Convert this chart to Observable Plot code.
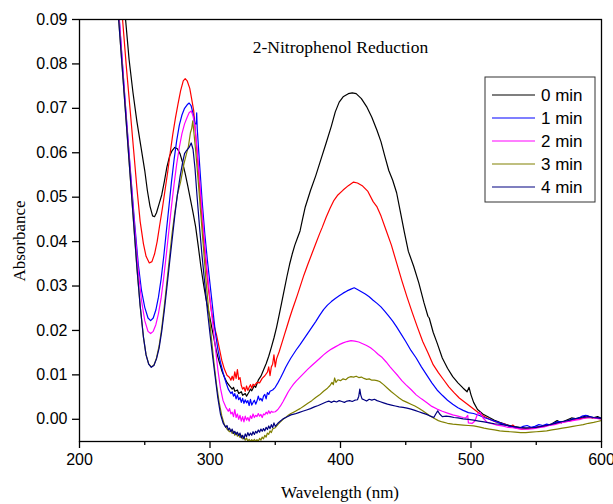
<!DOCTYPE html>
<html>
<head>
<meta charset="utf-8">
<script src="https://cdn.jsdelivr.net/npm/d3@7"></script>
<script src="https://cdn.jsdelivr.net/npm/@observablehq/plot@0.6"></script>
<style>
  html, body { margin: 0; padding: 0; background: #fff; }
  #chart svg { display: block; background: #fff; }
</style>
</head>
<body>
<div id="chart"></div>
<script>
// ---- data (wavelength nm, absorbance) ----
const titleText = "2-Nitrophenol Reduction";
const xLabel = "Wavelength (nm)";
const yLabel = "Absorbance";
const xTicksMajor = [200, 300, 400, 500, 600];
const xTicksMinor = [250, 350, 450, 550];
const yTicks = [0, 0.01, 0.02, 0.03, 0.04, 0.05, 0.06, 0.07, 0.08, 0.09];
const legendLabels = ["0 min", "1 min", "2 min", "3 min", "4 min"];
const legendColors = ["#000000", "#0000ff", "#ff00ff", "#808000", "#000080"];

const s0 = [[232,0.102],[235,0.091],[238,0.081],[241,0.0735],[244,0.067],[247,0.0615],[250,0.056],[252,0.0515],[254,0.048],[256,0.0458],[257.5,0.0456],[259,0.0465],[261,0.0485],[263,0.0505],[265,0.0535],[267,0.0568],[269,0.0592],[271,0.0605],[273,0.0612],[275,0.0609],[277,0.0598],[279,0.0578],[281,0.0553],[283,0.0525],[285,0.0495],[287,0.0465],[289,0.0433],[291,0.039],[293,0.0344],[295,0.0305],[297,0.027],[299,0.0242],[301,0.0212],[303,0.0182],[305,0.0152],[307,0.013],[309,0.011],[311,0.0095],[313,0.0083],[315,0.0075],[317,0.0068],[318,0.0072],[319,0.0063],[321,0.0066],[322,0.0058],[324,0.0062],[325,0.0054],[327,0.0058],[328,0.0052],[330,0.0062],[331,0.0068],[332,0.0064],[334,0.0076],[335,0.0072],[337,0.0088],[339,0.0097],[341,0.0111],[343,0.0125],[345,0.0142],[347,0.0162],[349,0.0183],[351,0.0207],[353,0.0235],[355,0.0264],[357,0.0293],[359,0.0322],[361,0.0349],[363,0.0372],[365,0.0392],[367,0.0408],[369,0.0424],[371,0.0452],[373,0.0478],[377,0.0515],[381,0.0548],[385,0.0585],[389,0.0622],[393,0.066],[396,0.0692],[399,0.0714],[402,0.0726],[406,0.0733],[409,0.0735],[412,0.0733],[416,0.0722],[420,0.0704],[424,0.068],[428,0.065],[431,0.0625],[434,0.0592],[437,0.056],[440,0.0538],[443,0.051],[446,0.0465],[449,0.042],[452,0.0378],[456,0.0345],[460,0.0307],[464,0.0262],[467,0.0232],[468,0.0228],[471,0.0196],[474,0.0172],[478,0.0138],[482,0.0115],[486,0.0096],[490,0.0082],[494,0.007],[497,0.0062],[498.5,0.0072],[500,0.0055],[502,0.0038],[505,0.0022],[509,0.0012],[514,0.0004],[518,-0.0002],[522,-0.0007],[527,-0.0012],[532,-0.0016],[537,-0.0018],[542,-0.002],[547,-0.0019],[552,-0.0017],[557,-0.0015],[562,-0.001],[566,-0.0003],[569,-0.0008],[573,-0.0002],[577,0.0003],[581,0.0001],[585,0.0005],[589,0.0008],[593,0.0003],[597,0.0006],[600,0.0002]];

const sRed = [[229,0.106],[233,0.09],[236,0.079],[239,0.069],[241.5,0.0605],[244,0.052],[246.5,0.0445],[249,0.0395],[251,0.0367],[253.5,0.0352],[255.5,0.0355],[257.5,0.0372],[259.5,0.04],[261.5,0.0438],[263.5,0.0475],[265.5,0.0515],[267.5,0.0555],[269.5,0.06],[271.5,0.0642],[273.5,0.0678],[275.5,0.071],[277.5,0.074],[279.5,0.0762],[281,0.0767],[282.5,0.0762],[284.5,0.0745],[286,0.072],[287.5,0.0695],[289,0.064],[291,0.0565],[293,0.0485],[295,0.041],[297,0.0345],[299,0.0288],[301,0.0245],[303,0.0212],[305,0.019],[307,0.0162],[309,0.0133],[311,0.0113],[313,0.0099],[315,0.0094],[316,0.0088],[317,0.0097],[318,0.0088],[319,0.0107],[320,0.0092],[321,0.0112],[322,0.009],[323,0.0094],[324,0.0076],[325,0.0068],[326,0.0072],[327,0.0063],[328,0.0075],[329,0.0065],[330,0.0072],[331,0.0078],[332,0.007],[333,0.0079],[334,0.0076],[336,0.0083],[338,0.0082],[340,0.0092],[342,0.0098],[344,0.0106],[345,0.0118],[346,0.0098],[347,0.0118],[348,0.0124],[349,0.0145],[350,0.0118],[351,0.0136],[353,0.0152],[355,0.0171],[357,0.019],[359,0.0209],[361,0.0228],[363,0.0246],[365,0.0263],[367,0.028],[369,0.0298],[372,0.0325],[375,0.0349],[378,0.0372],[381,0.0395],[384,0.0418],[386,0.0432],[389,0.0455],[392,0.0475],[395,0.0493],[398,0.0505],[402,0.0516],[406,0.0526],[410,0.0534],[413,0.0532],[417,0.0525],[421,0.0513],[425,0.049],[428,0.0478],[431,0.0458],[435,0.0425],[439,0.0392],[443,0.0352],[447,0.0312],[451,0.0275],[455,0.024],[459,0.0207],[463,0.0175],[467,0.015],[471,0.0123],[475,0.0105],[479,0.0089],[483,0.0073],[487,0.006],[491,0.0048],[495,0.0039],[499,0.003],[503,0.0021],[507,0.0012],[511,0.0005],[515,-0.0001],[519,-0.0006],[523,-0.0009],[527,-0.0012],[530,-0.0017],[532,-0.0013],[535,-0.002],[539,-0.0022],[543,-0.0021],[547,-0.002],[551,-0.0018],[555,-0.0016],[559,-0.0013],[563,-0.0011],[567,-0.0007],[571,-0.0006],[575,-0.0004],[579,-0.0001],[583,0.0001],[587,0.0003],[591,0.0004],[595,0.0003],[600,0.0001]];

const s1 = [[226,0.107],[230.5,0.09],[235,0.0715],[239,0.056],[242,0.045],[245,0.035],[247.5,0.029],[250,0.0252],[252.5,0.0228],[254.5,0.0222],[256.5,0.0228],[258.5,0.0246],[260.5,0.0275],[262.5,0.0315],[264.5,0.0365],[266.5,0.0422],[268.5,0.0478],[270.5,0.0535],[272.5,0.0585],[274.5,0.0628],[276.5,0.0662],[278.5,0.0685],[280.5,0.07],[282.5,0.0708],[284,0.0712],[285.5,0.0706],[287,0.0688],[288.5,0.0665],[289.5,0.0665],[289.8,0.069],[290.2,0.0655],[292,0.0575],[294,0.049],[296,0.0418],[298,0.0358],[300,0.0305],[302,0.0252],[304,0.0198],[306,0.0158],[308,0.0128],[310,0.0105],[312,0.0085],[314,0.0068],[316,0.0058],[317,0.0062],[318,0.0052],[319,0.0058],[320,0.0046],[321,0.0055],[322,0.0044],[323,0.0049],[324,0.0038],[325,0.0047],[326,0.0036],[327,0.0044],[328,0.0037],[329,0.0042],[330,0.0031],[331,0.0045],[332,0.0032],[333,0.0038],[334,0.0043],[335,0.0034],[336,0.0041],[337,0.0052],[338,0.0043],[339,0.0047],[340,0.0041],[341,0.0052],[342,0.0056],[343,0.0046],[344,0.006],[345,0.0056],[346,0.0063],[348,0.0066],[350,0.0072],[352,0.0082],[354,0.0093],[356,0.0105],[358,0.0117],[360,0.0128],[362,0.0138],[364,0.0147],[366,0.0156],[369,0.0168],[372,0.0181],[375,0.0194],[378,0.0207],[381,0.022],[384,0.0234],[387,0.0247],[390,0.0257],[393,0.0265],[396,0.0272],[399,0.0278],[402,0.0284],[405,0.0289],[408,0.0293],[410.5,0.0296],[413,0.0292],[416,0.0287],[419,0.0282],[422,0.0276],[425,0.0268],[428,0.0261],[431,0.0253],[434,0.0243],[437,0.0232],[440,0.0221],[443,0.0208],[446,0.0194],[450,0.0175],[454,0.0155],[458,0.0138],[462,0.0118],[466,0.01],[470,0.0082],[474,0.0066],[478,0.0054],[482,0.0043],[486,0.0034],[490,0.0026],[494,0.002],[498,0.0015],[502,0.0013],[506,0.0009],[510,0.0004],[514,0.0],[518,-0.0004],[522,-0.0008],[526,-0.0012],[530,-0.0016],[534,-0.0019],[537,-0.002],[540,-0.0016],[543,-0.0014],[546,-0.0018],[549,-0.0016],[552,-0.0012],[555,-0.0014],[558,-0.0011],[561,-0.0013],[564,-0.0008],[567,-0.0005],[570,-0.0006],[574,-0.0004],[578,0.0001],[582,0.0002],[585,0.0007],[588,0.0009],[591,0.0006],[594,0.0004],[597,0.0003],[600,0.0002]];

const s2 = [[226,0.105],[230.5,0.09],[235,0.0712],[239,0.0555],[242,0.044],[245,0.0335],[247.5,0.0268],[250,0.0222],[252.5,0.0198],[254.5,0.0193],[256.5,0.0198],[258.5,0.0213],[260.5,0.0238],[262.5,0.0272],[264.5,0.0318],[266.5,0.037],[268.5,0.0425],[270.5,0.048],[272.5,0.053],[274.5,0.0575],[276.5,0.0612],[278.5,0.0643],[280.5,0.0665],[282.5,0.068],[284,0.069],[285.6,0.0694],[287,0.0683],[288.5,0.0658],[290,0.0612],[292,0.054],[294,0.0465],[296,0.0392],[298,0.0328],[300,0.0272],[302,0.0218],[304,0.0165],[306,0.0112],[308,0.007],[310,0.0042],[312,0.0028],[314,0.0018],[315,0.0024],[316,0.0012],[317,0.0016],[318,0.0006],[319,0.0022],[320,0.0004],[321,0.0012],[322,0.0],[323,0.0009],[324,-0.0004],[325,0.0006],[326,-0.0006],[327,0.0007],[328,-0.0002],[329,0.0004],[330,-0.0004],[331,0.0008],[332,0.0002],[333,0.0012],[334,0.0004],[335,0.0009],[336,0.0006],[337,0.0013],[338,0.0007],[339,0.0011],[340,0.0004],[341,0.0012],[342,0.001],[343,0.0016],[344,0.0012],[345,0.0019],[346,0.0013],[347,0.0018],[348,0.0016],[350,0.0017],[352,0.0022],[354,0.003],[356,0.004],[358,0.0051],[360,0.0062],[362,0.0071],[364,0.0079],[366,0.0086],[369,0.0095],[372,0.0104],[375,0.0113],[378,0.0121],[381,0.0129],[384,0.0137],[387,0.0145],[390,0.0152],[393,0.0158],[396,0.0163],[399,0.0168],[402,0.0172],[405,0.0175],[408,0.0177],[411,0.0176],[414,0.0174],[417,0.017],[420,0.0166],[423,0.0161],[426,0.0154],[429,0.0146],[432,0.0139],[435,0.0129],[438,0.0118],[441,0.0108],[444,0.0098],[447,0.0087],[450,0.0078],[454,0.0067],[458,0.0055],[462,0.0046],[466,0.0038],[470,0.0029],[474,0.0023],[478,0.0018],[482,0.0014],[486,0.001],[490,0.0007],[494,0.0004],[496,0.0003],[497.5,0.0009],[498,-0.0008],[501,-0.0009],[503,-0.0004],[505,0.0012],[507,0.0016],[509,0.0004],[512,-0.0006],[516,-0.001],[520,-0.0013],[524,-0.0015],[528,-0.0018],[532,-0.0019],[536,-0.0021],[540,-0.0022],[544,-0.0022],[548,-0.0021],[552,-0.0019],[556,-0.0017],[560,-0.0014],[564,-0.0012],[568,-0.0009],[572,-0.0006],[576,-0.0004],[580,-0.0002],[584,0.0],[588,0.0003],[592,0.0004],[596,0.0002],[600,0.0001]];

const s3 = [[226,0.106],[230,0.09],[234,0.074],[238,0.058],[241,0.046],[244,0.034],[246.5,0.0255],[249,0.0185],[251,0.0145],[253,0.0125],[255,0.0118],[257,0.0122],[259,0.0138],[261,0.0165],[263,0.0205],[265,0.0255],[267,0.031],[269,0.0365],[271,0.042],[273,0.0465],[275,0.0505],[277.5,0.0535],[280,0.0575],[282,0.0598],[283.5,0.0615],[285,0.0645],[286,0.0655],[286.8,0.0672],[287.5,0.065],[289,0.0605],[291,0.0535],[293,0.046],[295,0.0385],[297,0.031],[299,0.0245],[301,0.0185],[303,0.0128],[305,0.0078],[307,0.0038],[309,0.0008],[311,-0.0012],[313,-0.0022],[315,-0.0028],[316,-0.0024],[317,-0.0032],[318,-0.0027],[319,-0.0036],[320,-0.003],[321,-0.0038],[322,-0.0033],[323,-0.0041],[324,-0.0036],[325,-0.0044],[326,-0.004],[327,-0.0047],[328,-0.0042],[329,-0.0049],[330,-0.0045],[331,-0.005],[332,-0.0046],[333,-0.005],[334,-0.0045],[335,-0.005],[336,-0.0046],[337,-0.0049],[338,-0.0043],[339,-0.0047],[340,-0.004],[341,-0.0044],[342,-0.0036],[343,-0.004],[344,-0.0031],[345,-0.0034],[346,-0.0026],[347,-0.003],[348,-0.0022],[350,-0.0019],[352,-0.0012],[354,-0.0006],[356,0.0],[358,0.0004],[360,0.0009],[362,0.0013],[364,0.0016],[366,0.0019],[369,0.0024],[372,0.003],[375,0.0036],[378,0.0042],[381,0.0049],[384,0.0055],[387,0.0063],[390,0.007],[392,0.0076],[393.5,0.0083],[394.5,0.0078],[395.5,0.0093],[396.5,0.0083],[398,0.0089],[400,0.0087],[402,0.0091],[404,0.0089],[406,0.0094],[408,0.0096],[410,0.0095],[412,0.0097],[414,0.0094],[416,0.0095],[418,0.0092],[420,0.009],[422,0.0091],[424,0.0088],[426,0.0088],[428,0.0087],[430,0.0085],[433,0.0078],[436,0.007],[439,0.0062],[442,0.0055],[445,0.0048],[448,0.0042],[451,0.0038],[454,0.0034],[457,0.003],[460,0.0025],[463,0.0019],[466,0.0013],[469,0.0007],[472,0.0002],[475,-0.0003],[478,-0.0006],[482,-0.0009],[486,-0.0011],[490,-0.0012],[494,-0.0013],[498,-0.0014],[502,-0.0015],[506,-0.0017],[510,-0.002],[514,-0.0022],[518,-0.0024],[522,-0.0026],[526,-0.0027],[530,-0.0028],[534,-0.0029],[538,-0.003],[542,-0.003],[546,-0.0029],[550,-0.0028],[554,-0.0027],[558,-0.0026],[562,-0.0024],[566,-0.0022],[570,-0.002],[574,-0.0018],[578,-0.0016],[582,-0.0014],[586,-0.0012],[590,-0.0009],[594,-0.0007],[597,-0.0005],[600,-0.0003]];

const s4 = [[226,0.106],[230,0.09],[234,0.0742],[238,0.0582],[241,0.0462],[244,0.0342],[246.5,0.0255],[249,0.0185],[251,0.0145],[253,0.0124],[255,0.0117],[257,0.0121],[259,0.0136],[261,0.016],[263,0.0198],[265,0.0245],[267,0.0298],[269,0.0352],[271,0.0405],[273,0.0458],[275,0.0505],[277,0.0545],[279,0.0578],[280.5,0.0598],[282,0.0605],[284,0.0612],[285.6,0.0622],[287,0.0608],[288.5,0.0565],[290,0.0505],[292,0.0432],[294,0.0365],[296,0.0305],[298,0.0245],[300,0.0192],[302,0.0142],[304,0.0095],[306,0.0048],[308,0.0012],[310,-0.0008],[312,-0.0018],[313,-0.0014],[314,-0.0024],[315,-0.002],[316,-0.0028],[317,-0.0022],[318,-0.0032],[319,-0.0027],[320,-0.0034],[321,-0.0029],[322,-0.0037],[323,-0.0031],[324,-0.0042],[325,-0.0036],[326,-0.0044],[327,-0.0033],[328,-0.0039],[329,-0.003],[330,-0.0037],[331,-0.0031],[332,-0.0036],[333,-0.0028],[334,-0.0034],[335,-0.0027],[336,-0.0031],[337,-0.0024],[338,-0.0029],[339,-0.0022],[340,-0.0027],[341,-0.0021],[342,-0.0026],[343,-0.0018],[344,-0.0023],[345,-0.0015],[346,-0.0021],[347,-0.0012],[348,-0.0019],[349,-0.0008],[350,-0.0016],[352,-0.0009],[354,-0.0004],[356,0.0001],[358,0.0004],[360,0.0007],[362,0.001],[365,0.0012],[368,0.0015],[371,0.0018],[374,0.0021],[377,0.0024],[380,0.0028],[383,0.0031],[386,0.0035],[389,0.0039],[391,0.0041],[393,0.0038],[395,0.0041],[397,0.0039],[399,0.0042],[401,0.004],[403,0.0038],[405,0.0041],[407,0.0042],[409,0.004],[411,0.0043],[413,0.0044],[414,0.0052],[414.8,0.0068],[415.5,0.0055],[416.5,0.0046],[418,0.0044],[420,0.0041],[422,0.0045],[424,0.0043],[426,0.0045],[428,0.0042],[430,0.004],[433,0.0037],[436,0.0034],[439,0.0032],[442,0.003],[445,0.0028],[448,0.0027],[451,0.0025],[454,0.0023],[457,0.002],[460,0.0017],[463,0.0014],[466,0.0011],[469,0.0007],[471.5,0.0004],[473,0.0012],[474.5,0.0019],[476,0.0012],[478,0.0006],[481,0.0007],[484,0.0006],[487,0.0004],[490,0.0003],[494,0.0001],[498,0.0],[502,-0.0002],[506,-0.0004],[510,-0.0006],[514,-0.0008],[518,-0.001],[522,-0.0011],[526,-0.0013],[530,-0.0015],[534,-0.0017],[538,-0.0019],[542,-0.002],[546,-0.0019],[550,-0.0018],[554,-0.0016],[558,-0.0014],[562,-0.0011],[566,-0.0008],[570,-0.0005],[574,-0.0003],[578,0.0],[582,0.0003],[586,0.0004],[590,0.0006],[594,0.0004],[597,0.0003],[600,0.0002]];

const curves = [
  {data: s0, color: "#000000"},
  {data: sRed, color: "#ff0000"},
  {data: s1, color: "#0000ff"},
  {data: s2, color: "#ff00ff"},
  {data: s3, color: "#808000"},
  {data: s4, color: "#000080"}
];

const sans = "'Liberation Sans', Arial, sans-serif";
const serif = "'Liberation Serif', 'Times New Roman', serif";

const chart = Plot.plot({
  width: 613,
  height: 504,
  marginLeft: 79,
  marginRight: 12,
  marginTop: 19,
  marginBottom: 63,
  style: {fontFamily: sans, fontSize: "16px", background: "#fff", color: "#000"},
  x: {domain: [200, 600]},
  y: {domain: [-0.005, 0.09]},
  marks: [
    ...curves.map(c => Plot.line(c.data, {x: d => d[0], y: d => d[1], stroke: c.color, strokeWidth: 1.2, clip: true})),
    Plot.frame({stroke: "#000", strokeWidth: 1.3}),
    Plot.axisX({ticks: xTicksMajor, tickSize: 7, tickPadding: 5, tickFormat: d3.format("d"), label: null, fontSize: 16, stroke: "#000", strokeWidth: 1.3}),
    Plot.axisX({ticks: xTicksMinor, tickSize: 4, tickFormat: () => "", label: null, stroke: "#000", strokeWidth: 1.3}),
    Plot.axisY({ticks: yTicks, tickSize: 7, tickPadding: 5, tickFormat: d3.format(".2f"), label: null, fontSize: 16, stroke: "#000", strokeWidth: 1.3}),
    Plot.text([titleText], {frameAnchor: "top", dy: 21.5, fontFamily: serif, fontSize: 17.5, fill: "#000"})
  ]
});

const svg = d3.select(chart);

// axis titles
svg.append("text").attr("x", 340).attr("y", 498).attr("text-anchor", "middle")
  .attr("font-family", serif).attr("font-size", 17).attr("fill", "#000").text(xLabel);
svg.append("text").attr("transform", "translate(25,241) rotate(-90)").attr("text-anchor", "middle")
  .attr("font-family", serif).attr("font-size", 17).attr("fill", "#000").text(yLabel);

// legend box
const lg = svg.append("g").attr("transform", "translate(485,77)");
lg.append("rect").attr("width", 110).attr("height", 125).attr("fill", "#fff").attr("stroke", "#333").attr("stroke-width", 1);
legendLabels.forEach((lab, i) => {
  const yy = 18 + i * 23;
  lg.append("line").attr("x1", 7).attr("x2", 50).attr("y1", yy).attr("y2", yy).attr("stroke", legendColors[i]).attr("stroke-width", 1.2);
  lg.append("text").attr("x", 56).attr("y", yy).attr("dy", "0.36em").attr("text-anchor", "start")
    .attr("font-family", sans).attr("font-size", 17).attr("fill", "#000").text(lab);
});

document.getElementById("chart").appendChild(chart);
</script>
</body>
</html>
